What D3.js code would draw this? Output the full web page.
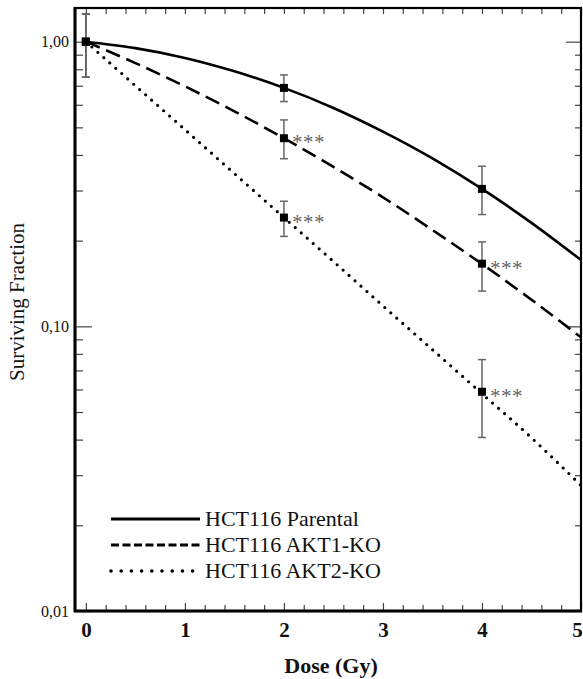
<!DOCTYPE html>
<html>
<head>
<meta charset="utf-8">
<script src="https://cdn.jsdelivr.net/npm/d3@7"></script>
<style>
  body { margin: 0; background: #fff; }
  text { font-family: "Liberation Serif", "Times New Roman", serif; }
</style>
</head>
<body>
<div id="chart"></div>
<script>
// measured points (dose in Gy, surviving fraction)
const doses = [0, 2, 4];
const seriesNames = ["HCT116 Parental", "HCT116 AKT1-KO", "HCT116 AKT2-KO"];
const parentalSF = [1.0, 0.688, 0.304];
const parentalLo = [0.75, 0.616, 0.247];
const parentalHi = [1.25, 0.764, 0.365];
const akt1SF = [1.0, 0.458, 0.166];
const akt1Lo = [0.75, 0.388, 0.133];
const akt1Hi = [1.25, 0.531, 0.198];
const akt2SF = [1.0, 0.241, 0.0589];
const akt2Lo = [0.75, 0.207, 0.0407];
const akt2Hi = [1.25, 0.275, 0.0764];
const akt1Stars = ["", "***", "***"];
const akt2Stars = ["", "***", "***"];

// fitted curves
const curveDoses = [0, 0.5, 1, 1.5, 2, 2.5, 3, 3.5, 4, 4.5, 5];
const parentalFit = [1, 0.949, 0.877, 0.787, 0.688, 0.585, 0.483, 0.389, 0.304, 0.231, 0.171];
const akt1Fit = [1, 0.841, 0.697, 0.569, 0.458, 0.363, 0.284, 0.218, 0.1656, 0.124, 0.0915];
const akt2Fit = [1, 0.700, 0.491, 0.344, 0.241, 0.169, 0.118, 0.0828, 0.058, 0.0406, 0.0276];

const xMajor = [0, 1, 2, 3, 4, 5];
const yMajor = [0.01, 0.1, 1];
const yTickLabels = ["0,01", "0,10", "1,00"];

const W = 583, H = 679;
const svg = d3.select("#chart").append("svg").attr("width", W).attr("height", H);

const x = d3.scaleLinear().domain([-0.11, 5]).range([75, 581]);
const y = d3.scaleLog().domain([0.01, 1.313]).range([611, 8]);

const series = [
  { name: seriesNames[0], sf: parentalSF, lo: parentalLo, hi: parentalHi, fit: parentalFit, stars: ["", "", ""], dash: null, legDash: null },
  { name: seriesNames[1], sf: akt1SF, lo: akt1Lo, hi: akt1Hi, fit: akt1Fit, stars: akt1Stars, dash: "15,7", legDash: "8,3.5" },
  { name: seriesNames[2], sf: akt2SF, lo: akt2Lo, hi: akt2Hi, fit: akt2Fit, stars: akt2Stars, dash: "0,8", legDash: "0,10.2" }
];

svg.append("defs").append("clipPath").attr("id", "plot")
  .append("rect").attr("x", 75).attr("y", 8).attr("width", 506).attr("height", 603);

// ticks
const xMinor = d3.range(0, 5.001, 0.2).filter(v => Math.abs(v - Math.round(v)) > 1e-6);
const yMinor = y.ticks(20).filter(v => !yMajor.some(m => Math.abs(m - v) < 1e-9));

const tickStyle = g => {
  g.select(".domain").remove();
  g.selectAll(".tick line").attr("stroke", "#444").attr("stroke-width", 1.2);
};

svg.append("g").attr("transform", "translate(0,611)")
  .call(d3.axisBottom(x).tickValues(xMinor).tickSizeInner(-6).tickSizeOuter(0).tickFormat(""))
  .call(tickStyle);
svg.append("g").attr("transform", "translate(0,611)")
  .call(d3.axisBottom(x).tickValues(xMajor).tickSizeInner(-8).tickSizeOuter(0).tickPadding(11).tickFormat(d3.format("d")))
  .call(tickStyle)
  .call(g => g.selectAll("text").attr("font-size", 21).attr("font-weight", "bold").attr("fill", "#111")
    .attr("font-family", "Liberation Serif").attr("dx", d => d === 5 ? -4 : 0));
svg.append("g").attr("transform", "translate(0,8)")
  .call(d3.axisTop(x).tickValues(d3.range(0, 5.001, 0.2)).tickSizeInner(-6).tickSizeOuter(0).tickFormat(""))
  .call(tickStyle);

svg.append("g").attr("transform", "translate(75,0)")
  .call(d3.axisLeft(y).tickValues(yMinor).tickSizeInner(-8).tickSizeOuter(0).tickFormat(""))
  .call(tickStyle);
svg.append("g").attr("transform", "translate(75,0)")
  .call(d3.axisLeft(y).tickValues(yMajor).tickSizeInner(-17).tickSizeOuter(0).tickPadding(6)
    .tickFormat((d, i) => yTickLabels[i]))
  .call(tickStyle)
  .call(g => g.selectAll("text").attr("font-size", 16).attr("fill", "#111").attr("font-family", "Liberation Serif"));
svg.append("g").attr("transform", "translate(581,0)")
  .call(d3.axisRight(y).tickValues(yMinor).tickSizeInner(-6).tickSizeOuter(0).tickFormat(""))
  .call(tickStyle);
svg.append("g").attr("transform", "translate(581,0)")
  .call(d3.axisRight(y).tickValues(yMajor).tickSizeInner(-15).tickSizeOuter(0).tickFormat(""))
  .call(tickStyle);

// frame
svg.append("rect").attr("x", 75).attr("y", 8).attr("width", 506).attr("height", 603)
  .attr("fill", "none").attr("stroke", "#000").attr("stroke-width", 2.2);
svg.append("line").attr("x1", 75).attr("x2", 75).attr("y1", 7).attr("y2", 612)
  .attr("stroke", "#000").attr("stroke-width", 3);
svg.append("line").attr("x1", 74).attr("x2", 582).attr("y1", 611).attr("y2", 611)
  .attr("stroke", "#000").attr("stroke-width", 2.8);

// curves
const line = d3.line().x((d, i) => x(curveDoses[i])).y(d => y(d)).curve(d3.curveMonotoneX);
const plot = svg.append("g").attr("clip-path", "url(#plot)");
series.forEach(s => {
  plot.append("path").datum(s.fit).attr("d", line)
    .attr("fill", "none").attr("stroke", "#000")
    .attr("stroke-width", s.dash === "0,8" ? 3.2 : 2.6)
    .attr("stroke-linecap", s.dash === "0,8" ? "round" : "butt")
    .attr("stroke-dasharray", s.dash);
});

// error bars and points
series.forEach(s => {
  const g = svg.append("g");
  doses.forEach((d, i) => {
    const cx = x(d);
    g.append("line").attr("x1", cx).attr("x2", cx).attr("y1", y(s.hi[i])).attr("y2", y(s.lo[i]))
      .attr("stroke", "#666").attr("stroke-width", 1.5);
    [s.hi[i], s.lo[i]].forEach(v => {
      g.append("line").attr("x1", cx - 4).attr("x2", cx + 4).attr("y1", y(v)).attr("y2", y(v))
        .attr("stroke", "#666").attr("stroke-width", 1.5);
    });
    g.append("rect").attr("x", cx - 4).attr("y", y(s.sf[i]) - 4).attr("width", 8).attr("height", 8)
      .attr("fill", "#000");
    if (s.stars[i]) {
      g.append("text").attr("x", cx + 8).attr("y", y(s.sf[i]) + 11)
        .attr("font-size", 21).attr("letter-spacing", 0.5).attr("fill", "#666").text(s.stars[i]);
    }
  });
});

// legend
const leg = svg.append("g");
series.forEach((s, i) => {
  const ly = 519 + i * 26;
  leg.append("line").attr("x1", 111).attr("x2", 200).attr("y1", ly).attr("y2", ly)
    .attr("stroke", "#000")
    .attr("stroke-width", i === 2 ? 3.6 : 3)
    .attr("stroke-linecap", i === 2 ? "round" : "butt")
    .attr("stroke-dasharray", s.legDash);
  leg.append("text").attr("x", 205).attr("y", ly + 7).attr("font-size", 22).attr("fill", "#111").text(s.name);
});

// axis titles
svg.append("text").attr("transform", "translate(24,302) rotate(-90)").attr("text-anchor", "middle")
  .attr("font-size", 21).attr("fill", "#111").text("Surviving Fraction");
svg.append("text").attr("x", 331).attr("y", 673).attr("text-anchor", "middle")
  .attr("font-size", 22).attr("font-weight", "bold").attr("fill", "#111").text("Dose (Gy)");
</script>
</body>
</html>
